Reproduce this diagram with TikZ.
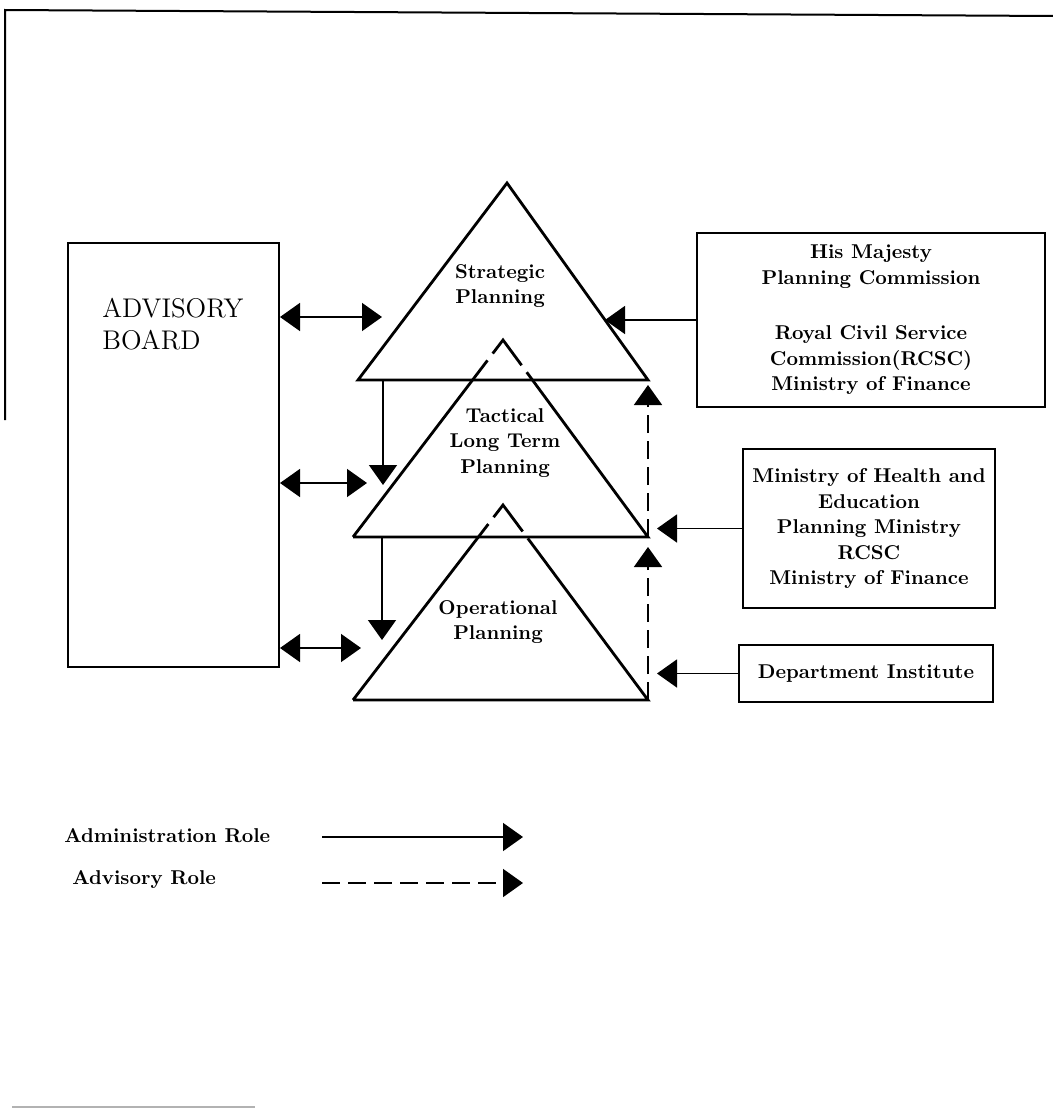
\documentclass[tikz,border=0pt]{standalone}
\usepackage{tikz}
\usetikzlibrary{arrows.meta}
\usetikzlibrary{positioning}

\tikzset{
    lbl/.style={align=center,inner sep=1pt,font=\fontsize{10}{12.75}\selectfont\bfseries},
    box/.style={rectangle,draw,line width=1pt,align=center,inner sep=1pt,font=\fontsize{10}{12.75}\selectfont\bfseries},
    tri/.style={line width=1.4pt},
    tridash/.style={line width=1.4pt,dash pattern=on 111pt off 4.3pt on 24.2pt off 4.3pt on 400pt off 0pt},
    adm/.style={color=black,line width=0.8pt,->},
    adv/.style={color=black,line width=0.9pt,dash pattern=on 9pt off 4pt,->},
}

\begin{document}
\begin{tikzpicture}[x=0.5pt,y=-0.5pt,>={Triangle[length=10pt,width=14pt]},line join=miter]
        \useasboundingbox (0,0) rectangle (1053,1108);
        %
        \draw [line width=1pt] (5,420) -- (5,10) -- (1053,16);
        \draw [gray!60,line width=1pt] (12,1107) -- (255,1107);
        %
        \coordinate (strattop) at (507,183);
        \coordinate (stratleft) at (358,380);
        \coordinate (stratright) at (648,380);
        \coordinate (tacttop) at (503,340);
        \coordinate (tactleft) at (353,537);
        \coordinate (tactright) at (648,537);
        \coordinate (opertop) at (503,505);
        \coordinate (operleft) at (353,700);
        \coordinate (operright) at (648,700);
        %
        \draw [tri] (stratleft) -- (strattop) -- (stratright) -- cycle;
        \draw [tridash] (tactleft) -- (tacttop) -- (tactright) -- cycle;
        \draw [tridash] (operleft) -- (opertop) -- (operright) -- cycle;
        %
        \node[lbl] (strategic) at (500,286) {Strategic\\Planning};
        \node[lbl] (tactical) at (505,443) {Tactical\\Long Term\\Planning};
        \node[lbl] (operational) at (498,622) {Operational\\Planning};
        %
        \node[rectangle,draw,line width=1pt,minimum width=105.5pt,minimum height=212pt] (advisory) at (173.5,455) {};
        \node[anchor=north west,align=left,inner sep=0pt,font=\fontsize{13.5}{16}\selectfont] (advisorytext) at (102,298) {ADVISORY\\BOARD};
        %
        \node[box,minimum width=174pt,minimum height=87pt] (hismajesty) at (871,320) {His Majesty\\Planning Commission\\[15pt]Royal Civil Service\\Commission(RCSC)\\Ministry of Finance};
        \node[box,minimum width=126pt,minimum height=79.5pt] (ministries) at (869,528.5) {Ministry of Health and\\Education\\Planning Ministry\\RCSC\\Ministry of Finance};
        \node[box,minimum width=127pt,minimum height=28.5pt] (department) at (866,673.5) {Department Institute};
        %
        \coordinate (stratin) at (382,317);
        \coordinate (tactin) at (367,483);
        \coordinate (operin) at (361,648);
        \draw [adm,<->] (advisory.east |- stratin) to (stratin);
        \draw [adm,<->] (advisory.east |- tactin) to (tactin);
        \draw [adm,<->] (advisory.east |- operin) to (operin);
        %
        \coordinate (stratdown) at (383,380);
        \coordinate (tactdown) at (383,485);
        \coordinate (tactout) at (382,537);
        \coordinate (operdown) at (382,640);
        \draw [adm] (stratdown) to (tactdown);
        \draw [adm] (tactout) to (operdown);
        %
        \draw [adv,shorten >=2.5pt] (tactright) to (stratright);
        \draw [adv,shorten >=5pt] (operright) to (tactright);
        %
        \coordinate (stratside) at (605,320);
        \coordinate (tactside) at (657,528.5);
        \coordinate (operside) at (657,673.5);
        \draw [adm] (hismajesty.west) to (stratside);
        \draw [adm] (ministries.west) to (tactside);
        \draw [adm] (department.west) to (operside);
        %
        \node[lbl,anchor=west] (admrole) at (62,836) {Administration Role};
        \node[lbl,anchor=west] (advrole) at (70,880) {Advisory Role};
        \coordinate (admstart) at (322,837);
        \coordinate (admend) at (523,837);
        \coordinate (advstart) at (322,883);
        \coordinate (advend) at (523,883);
        \draw [adm] (admstart) to (admend);
        \draw [adv] (advstart) to (advend);
        %
\end{tikzpicture}
\end{document}
